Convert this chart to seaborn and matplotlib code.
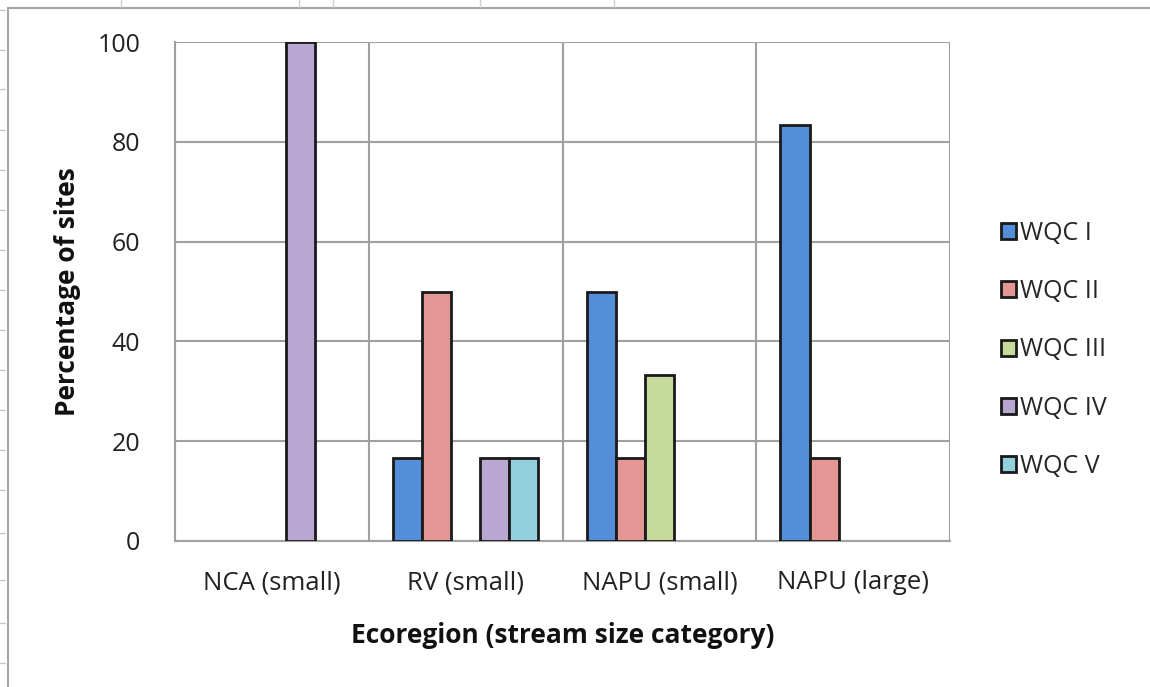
import matplotlib
matplotlib.use("Agg")
import matplotlib.pyplot as plt
from matplotlib.lines import Line2D
from matplotlib.patches import Rectangle
import seaborn as sns
import pandas as pd
import numpy as np

# data
regions = ["NCA (small)", "RV (small)", "NAPU (small)", "NAPU (large)"]
classes = ["WQC I", "WQC II", "WQC III", "WQC IV", "WQC V"]
region_col = ["NCA (small)", "RV (small)", "RV (small)", "RV (small)", "RV (small)",
              "NAPU (small)", "NAPU (small)", "NAPU (small)", "NAPU (large)", "NAPU (large)"]
class_col = ["WQC IV", "WQC I", "WQC II", "WQC IV", "WQC V",
             "WQC I", "WQC II", "WQC III", "WQC I", "WQC II"]
pct = [100, 16.7, 50, 16.7, 16.7, 50, 16.7, 33.3, 83.3, 16.7]
colors = ["#558ED8", "#E39694", "#C6DA9C", "#B9A6D1", "#93D0DD"]

df = pd.DataFrame({"region": region_col, "wqc": class_col, "pct": pct})

sns.set_style("white")
plt.rcParams['font.family'] = ['Open Sans', 'DejaVu Sans']

fig = plt.figure(figsize=(11.5, 6.87), dpi=100)
ax = fig.add_axes([175/1150, 1-541/687, 775/1150, 499/687])

sns.barplot(data=df, x="region", y="pct", hue="wqc", order=regions, hue_order=classes,
            palette=colors, saturation=1, width=0.75, edgecolor="#1a1a1a", linewidth=2,
            ax=ax, legend=True, zorder=3)

grid_c = "#A0A0A0"
ax.set_xlim(-0.5, 3.5)
ax.set_ylim(0, 100)
ax.set_yticks([0, 20, 40, 60, 80, 100])
ax.set_xticks(np.arange(-0.5, 4, 1), minor=True)
ax.grid(axis="y", color=grid_c, linewidth=1.5, zorder=0)
ax.grid(axis="x", which="minor", color=grid_c, linewidth=1.5, zorder=0)
ax.set_axisbelow(True)
for s in ["top", "right"]:
    ax.spines[s].set_visible(False)
for s in ["left", "bottom"]:
    ax.spines[s].set_color(grid_c)
    ax.spines[s].set_linewidth(1.5)
ax.tick_params(axis="y", which="major", length=10, width=1.5, color=grid_c,
               labelsize=18, pad=15, labelcolor="#222222")
ax.tick_params(axis="x", which="major", length=0, labelsize=18.5, pad=21, labelcolor="#222222")
ax.tick_params(axis="x", which="minor", length=9, width=1.5, color=grid_c)
ax.set_xlabel("Ecoregion (stream size category)", fontsize=19, fontweight="bold",
              labelpad=19, color="#111111")
ax.set_ylabel("Percentage of sites", fontsize=19, fontweight="bold", labelpad=12,
              color="#111111")

handles = [Rectangle((0, 0), 1, 1, facecolor=c, edgecolor="#1a1a1a", linewidth=2) for c in colors]
ax.legend(handles, classes, loc="center left", bbox_to_anchor=(1.053, 0.383), frameon=False,
          fontsize=18, handlelength=0.6, handleheight=0.6, handletextpad=0.15,
          labelspacing=1.33, borderaxespad=0)

# spreadsheet surroundings
W, H = 1150, 687
fig.add_artist(Line2D([8/W, 8/W], [0, 1-8/H], color="#A6A6A6", lw=1.5))
fig.add_artist(Line2D([8/W, 1], [1-8/H, 1-8/H], color="#A6A6A6", lw=1.5))
for xp in [121, 299, 333, 480, 614]:
    fig.add_artist(Line2D([xp/W, xp/W], [1-7/H, 1], color="#D0D0D0", lw=1))
for yp in [10, 50, 89, 130, 170, 210, 250, 290, 330, 370, 410, 450, 490, 533, 580, 623, 663]:
    fig.add_artist(Line2D([0, 5/W], [1-yp/H, 1-yp/H], color="#C8C8C8", lw=1))

fig.savefig("out.png", dpi=100)
